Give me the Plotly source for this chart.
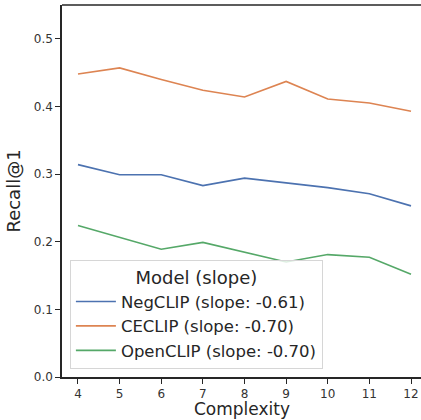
import plotly.graph_objects as go

complexity = [4, 5, 6, 7, 8, 9, 10, 11, 12]
negclip = [0.314, 0.299, 0.299, 0.283, 0.294, 0.287, 0.280, 0.271, 0.253]
ceclip = [0.448, 0.457, 0.440, 0.424, 0.414, 0.437, 0.411, 0.405, 0.393]
openclip = [0.224, 0.207, 0.189, 0.199, 0.184, 0.170, 0.181, 0.177, 0.152]

series_names = ["NegCLIP (slope: -0.61)", "CECLIP (slope: -0.70)", "OpenCLIP (slope: -0.70)"]
series_colors = ["#4c72b0", "#dd8452", "#55a868"]
y_ticks = [0.0, 0.1, 0.2, 0.3, 0.4, 0.5]

fig = go.Figure()
for name, vals, col in zip(series_names, [negclip, ceclip, openclip], series_colors):
    fig.add_trace(go.Scatter(x=complexity, y=vals, mode="lines", name=name,
                             line=dict(color=col, width=1.6)))

axis_font = dict(family="DejaVu Sans", size=12, color="#333333")
fig.update_layout(
    width=421, height=420,
    margin=dict(l=62, r=0, t=5, b=43),
    paper_bgcolor="white", plot_bgcolor="white",
    font=dict(family="DejaVu Sans", color="#262626"),
    xaxis=dict(range=[3.616, 12.24], tickmode="array", tickvals=complexity,
               ticks="outside", ticklen=5, tickwidth=1.2, tickcolor="#262626",
               showline=True, linecolor="#262626", linewidth=1.5,
               showgrid=False, zeroline=False, tickfont=axis_font, automargin=False),
    yaxis=dict(range=[0, 0.55], tickmode="array", tickvals=y_ticks,
               ticktext=[f"{v:.1f}" for v in y_ticks],
               ticks="outside", ticklen=5, tickwidth=1.2, tickcolor="#262626",
               showline=True, linecolor="#262626", linewidth=1.5,
               showgrid=False, zeroline=False, tickfont=axis_font, automargin=False,
               title=dict(text="Recall@1", font=dict(size=18, family="DejaVu Sans", color="#262626"),
                          standoff=8)),
    legend=dict(x=0.022, y=0.022, xanchor="left", yanchor="bottom",
                bgcolor="rgba(255,255,255,0.8)", bordercolor="#d6d6d6", borderwidth=1,
                font=dict(size=16.5, family="DejaVu Sans", color="#262626"),
                title=dict(text="Model (slope)", side="top center",
                           font=dict(size=18, family="DejaVu Sans", color="#262626")),
                itemwidth=40, tracegroupgap=0),
    showlegend=True,
)
# x-axis title placed just below the tick labels
fig.add_annotation(text="Complexity", xref="paper", yref="paper", x=0.5, y=0,
                   xanchor="center", yanchor="top", yshift=-21, borderpad=0, showarrow=False,
                   font=dict(size=17, family="DejaVu Sans", color="#262626"))
# top spine
fig.add_shape(type="line", xref="paper", yref="paper", x0=0, x1=1, y0=1, y1=1,
              line=dict(color="#262626", width=1.5))

fig.write_html("out.html")
